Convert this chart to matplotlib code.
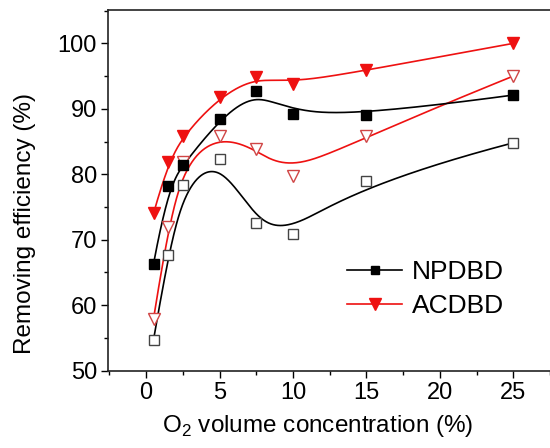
import numpy as np
import matplotlib
matplotlib.use("Agg")
import matplotlib.pyplot as plt
from matplotlib.ticker import MultipleLocator

plt.rcParams['font.family'] = ['Liberation Sans', 'DejaVu Sans']
plt.rcParams['mathtext.fontset'] = 'custom'
plt.rcParams['mathtext.rm'] = 'Liberation Sans'

o2 = [0.5, 1.5, 2.5, 5, 7.5, 10, 15, 25]
npdbd_filled = [66.3, 78.2, 81.4, 88.4, 92.7, 89.2, 89.1, 92.1]
npdbd_open = [54.7, 67.6, 78.4, 82.4, 72.6, 70.9, 78.9, 84.8]
acdbd_filled = [74.0, 81.9, 85.9, 91.8, 94.9, 93.8, 95.9, 100.0]
acdbd_open = [57.9, 71.9, 81.9, 85.9, 83.8, 79.8, 85.9, 95.0]
x_ticks = [0, 5, 10, 15, 20, 25]
y_ticks = [50, 60, 70, 80, 90, 100]


def bspline(xs, ys, k=3, n=400):
    P = np.column_stack([xs, ys]).astype(float)
    m = len(P)
    inner = np.linspace(0, 1, m - k + 1)
    t = np.concatenate([np.zeros(k), inner, np.ones(k)])
    u = np.linspace(0, 1, n)
    u[-1] = 1 - 1e-12

    def N(i, p, u):
        if p == 0:
            return ((t[i] <= u) & (u < t[i + 1])).astype(float)
        a = np.zeros_like(u)
        b = np.zeros_like(u)
        if t[i + p] != t[i]:
            a = (u - t[i]) / (t[i + p] - t[i]) * N(i, p - 1, u)
        if t[i + p + 1] != t[i + 1]:
            b = (t[i + p + 1] - u) / (t[i + p + 1] - t[i + 1]) * N(i + 1, p - 1, u)
        return a + b

    B = np.array([N(i, k, u) for i in range(m)])
    C = B.T @ P
    return C[:, 0], C[:, 1]


fig = plt.figure(figsize=(5.5, 4.48), dpi=100)
ax = fig.add_axes([108 / 550, 1 - 370.5 / 448, 478.7 / 550, (370.5 - 10) / 448])

black = '#000000'
red = '#ee1111'
lw = 1.2

for ys, col, mk, filled in [
    (npdbd_open, black, 's', False),
    (acdbd_open, red, 'v', False),
    (npdbd_filled, black, 's', True),
    (acdbd_filled, red, 'v', True),
]:
    cx, cy = bspline(o2, ys)
    ax.plot(cx, cy, color=col, lw=lw, zorder=2)
    ms = 7 if mk == 's' else 8.5
    if filled:
        ax.plot(o2, ys, linestyle='none', marker=mk, ms=ms, mfc=col, mec=col, zorder=3)
    else:
        ax.plot(o2, ys, linestyle='none', marker=mk, ms=ms, mfc='white',
                mec=('#444444' if col == black else '#d04545'), mew=1.0, zorder=3)

# legend handles
h1, = ax.plot([], [], color=black, lw=lw, marker='s', ms=6, mfc=black, mec=black)
h2, = ax.plot([], [], color=red, lw=lw, marker='v', ms=8, mfc=red, mec=red)
leg = ax.legend([h1, h2], ['NPDBD', 'ACDBD'], loc='upper left',
                bbox_to_anchor=((347 - 108) / 478.7, (370.5 - 260) / 360.5),
                frameon=False, fontsize=19, handlelength=2.1, handletextpad=0.35,
                labelspacing=0.38, borderaxespad=0, borderpad=0)

ax.set_xlim(-2.6, 30)
ax.set_ylim(50, 105.1)
ax.set_xticks(x_ticks)
ax.xaxis.set_minor_locator(MultipleLocator(2.5))
ax.set_yticks(y_ticks)
ax.yaxis.set_minor_locator(MultipleLocator(5))
ax.tick_params(which='major', direction='out', length=5, width=1.0, labelsize=17, pad=3)
ax.tick_params(which='minor', direction='out', length=3, width=1.0)
for s in ['left', 'bottom', 'top']:
    ax.spines[s].set_linewidth(1.2)
    ax.spines[s].set_color('#222222')
ax.spines['right'].set_visible(False)

ax.set_ylabel('Removing efficiency (%)', fontsize=17.5)
ax.yaxis.set_label_coords((25 - 108) / 478.7, (370.5 - 223) / 360.5)
ax.set_xlabel('O$_2$ volume concentration (%)', fontsize=17.5)
ax.xaxis.set_label_coords((318 - 108) / 478.7, (370.5 - 426) / 360.5)
ax.xaxis.label.set_va('center')
ax.yaxis.label.set_va('center')

fig.savefig('out.png', dpi=100)
